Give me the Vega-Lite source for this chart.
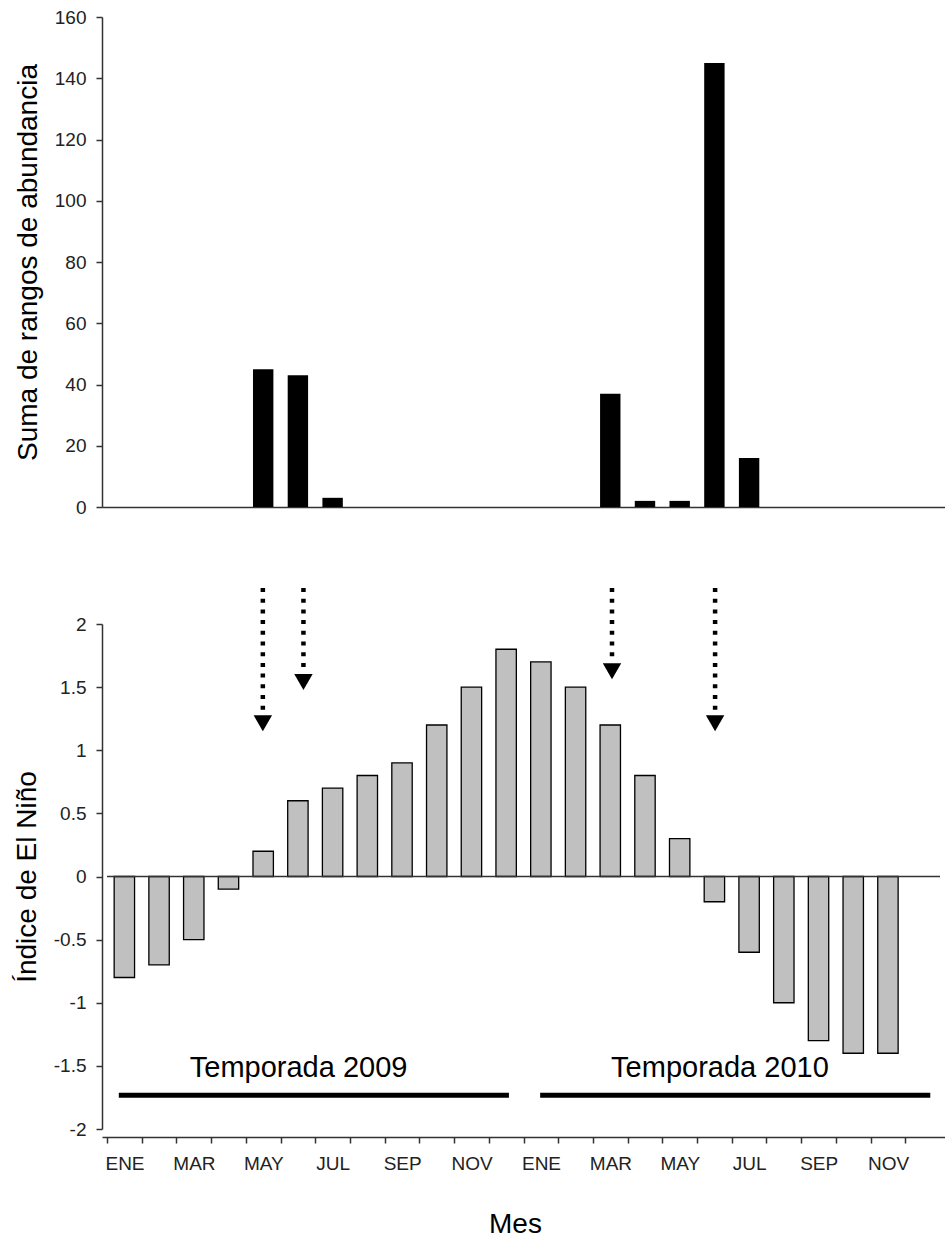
{
  "$schema": "https://vega.github.io/schema/vega-lite/v6.json",
  "padding": {"left": 13, "top": 8, "right": 0, "bottom": 0},
  "config": {
    "view": {"stroke": null},
    "font": "Liberation Sans",
    "axis": {
      "domainColor": "#333333", "tickColor": "#333333", "labelColor": "#222222", "titleColor": "#000000",
      "labelFont": "Liberation Sans", "titleFont": "Liberation Sans",
      "labelFontSize": 19, "titleFontSize": 28, "titleFontWeight": "normal",
      "grid": false, "tickSize": 6, "domainWidth": 1.5, "tickWidth": 1.5,
      "labelFlush": false, "labelOverlap": false, "labelBound": false
    }
  },
  "datasets": {
    "abund": [
      {"mes": "ENE-2009", "orden": 1, "valor": 0}, {"mes": "FEB-2009", "orden": 2, "valor": 0}, {"mes": "MAR-2009", "orden": 3, "valor": 0},
      {"mes": "ABR-2009", "orden": 4, "valor": 0}, {"mes": "MAY-2009", "orden": 5, "valor": 45}, {"mes": "JUN-2009", "orden": 6, "valor": 43},
      {"mes": "JUL-2009", "orden": 7, "valor": 3}, {"mes": "AGO-2009", "orden": 8, "valor": 0}, {"mes": "SEP-2009", "orden": 9, "valor": 0},
      {"mes": "OCT-2009", "orden": 10, "valor": 0}, {"mes": "NOV-2009", "orden": 11, "valor": 0}, {"mes": "DIC-2009", "orden": 12, "valor": 0},
      {"mes": "ENE-2010", "orden": 13, "valor": 0}, {"mes": "FEB-2010", "orden": 14, "valor": 0}, {"mes": "MAR-2010", "orden": 15, "valor": 37},
      {"mes": "ABR-2010", "orden": 16, "valor": 2}, {"mes": "MAY-2010", "orden": 17, "valor": 2}, {"mes": "JUN-2010", "orden": 18, "valor": 145},
      {"mes": "JUL-2010", "orden": 19, "valor": 16}, {"mes": "AGO-2010", "orden": 20, "valor": 0}, {"mes": "SEP-2010", "orden": 21, "valor": 0},
      {"mes": "OCT-2010", "orden": 22, "valor": 0}, {"mes": "NOV-2010", "orden": 23, "valor": 0}, {"mes": "DIC-2010", "orden": 24, "valor": 0}
    ],
    "nino": [
      {"mes": "ENE-2009", "orden": 1, "valor": -0.8}, {"mes": "FEB-2009", "orden": 2, "valor": -0.7}, {"mes": "MAR-2009", "orden": 3, "valor": -0.5},
      {"mes": "ABR-2009", "orden": 4, "valor": -0.1}, {"mes": "MAY-2009", "orden": 5, "valor": 0.2}, {"mes": "JUN-2009", "orden": 6, "valor": 0.6},
      {"mes": "JUL-2009", "orden": 7, "valor": 0.7}, {"mes": "AGO-2009", "orden": 8, "valor": 0.8}, {"mes": "SEP-2009", "orden": 9, "valor": 0.9},
      {"mes": "OCT-2009", "orden": 10, "valor": 1.2}, {"mes": "NOV-2009", "orden": 11, "valor": 1.5}, {"mes": "DIC-2009", "orden": 12, "valor": 1.8},
      {"mes": "ENE-2010", "orden": 13, "valor": 1.7}, {"mes": "FEB-2010", "orden": 14, "valor": 1.5}, {"mes": "MAR-2010", "orden": 15, "valor": 1.2},
      {"mes": "ABR-2010", "orden": 16, "valor": 0.8}, {"mes": "MAY-2010", "orden": 17, "valor": 0.3}, {"mes": "JUN-2010", "orden": 18, "valor": -0.2},
      {"mes": "JUL-2010", "orden": 19, "valor": -0.6}, {"mes": "AGO-2010", "orden": 20, "valor": -1.0}, {"mes": "SEP-2010", "orden": 21, "valor": -1.3},
      {"mes": "OCT-2010", "orden": 22, "valor": -1.4}, {"mes": "NOV-2010", "orden": 23, "valor": -1.4}
    ],
    "cero": [
      {"desde": 0.5, "hasta": 24.5, "nivel": 0}
    ],
    "flechas": [
      {"mes": "MAY-2009", "pos": 4.99, "inicio": 2.285, "fin": 1.302, "punta": 1.213},
      {"mes": "JUN-2009", "pos": 6.16, "inicio": 2.285, "fin": 1.647, "punta": 1.541},
      {"mes": "MAR-2010", "pos": 15.05, "inicio": 2.285, "fin": 1.736, "punta": 1.625},
      {"mes": "JUN-2010", "pos": 18.02, "inicio": 2.285, "fin": 1.302, "punta": 1.213}
    ],
    "temporadas": [
      {"etiqueta": "Temporada 2009", "inicio": 0.84, "fin": 12.08, "centro": 6.02, "nivel": -1.733, "texto": -1.59},
      {"etiqueta": "Temporada 2010", "inicio": 12.98, "fin": 24.22, "centro": 18.16, "nivel": -1.733, "texto": -1.59}
    ]
  },
  "spacing": 68,
  "vconcat": [
    {
      "width": 843,
      "height": 490,
      "data": {"name": "abund"},
      "mark": {"type": "bar", "color": "#000000", "width": 20.4},
      "encoding": {
        "x": {
          "field": "orden", "type": "quantitative",
          "scale": {"domain": [0.5, 24.5], "nice": false, "zero": false},
          "axis": {"title": null, "labels": false, "ticks": false}
        },
        "y": {
          "field": "valor", "type": "quantitative",
          "scale": {"domain": [0, 160]},
          "axis": {"title": "Suma de rangos de abundancia", "values": [0, 20, 40, 60, 80, 100, 120, 140, 160], "labelPadding": 10, "titlePadding": 12}
        }
      }
    },
    {
      "width": 843,
      "height": 505,
      "layer": [
        {
          "data": {"name": "nino"},
          "mark": {"type": "bar", "fill": "#C0C0C0", "stroke": "#000000", "strokeWidth": 1.3, "width": 20.4},
          "encoding": {
            "x": {
              "field": "orden", "type": "quantitative", "title": "Mes",
              "scale": {"domain": [0.5, 24.5], "nice": false, "zero": false},
              "axis": {
                "values": [0.5, 1.5, 2.5, 3.5, 4.5, 5.5, 6.5, 7.5, 8.5, 9.5, 10.5, 11.5, 12.5, 13.5, 14.5, 15.5, 16.5, 17.5, 18.5, 19.5, 20.5, 21.5, 22.5, 23.5],
                "tickCount": 40,
                "labelExpr": "['ENE','','MAR','','MAY','','JUL','','SEP','','NOV',''][round(datum.value - 0.5) % 12]",
                "labelOffset": 17.5, "labelAngle": 0,
                "offset": 8, "labelPadding": 11, "titlePadding": 37, "titleX": 413
              }
            },
            "y": {
              "field": "valor", "type": "quantitative", "title": "Índice de El Niño",
              "scale": {"domain": [-2, 2]},
              "axis": {"values": [-2, -1.5, -1, -0.5, 0, 0.5, 1, 1.5, 2], "labelExpr": "toString(datum.value)", "labelPadding": 10, "titlePadding": 12}
            }
          }
        },
        {
          "data": {"name": "cero"},
          "mark": {"type": "rule", "color": "#333333", "strokeWidth": 1.5},
          "encoding": {
            "x": {"field": "desde", "type": "quantitative", "title": "Mes", "scale": {"domain": [0.5, 24.5], "nice": false, "zero": false}},
            "x2": {"field": "hasta"},
            "y": {"field": "nivel", "type": "quantitative", "title": "Índice de El Niño", "scale": {"domain": [-2, 2]}}
          }
        },
        {
          "data": {"name": "temporadas"},
          "mark": {"type": "rule", "color": "#000000", "strokeWidth": 5},
          "encoding": {
            "x": {"field": "inicio", "type": "quantitative", "title": "Mes", "scale": {"domain": [0.5, 24.5], "nice": false, "zero": false}},
            "x2": {"field": "fin"},
            "y": {"field": "nivel", "type": "quantitative", "title": "Índice de El Niño", "scale": {"domain": [-2, 2]}}
          }
        },
        {
          "data": {"name": "temporadas"},
          "mark": {"type": "text", "fontSize": 29, "font": "Liberation Sans", "baseline": "alphabetic", "align": "center", "color": "#000000"},
          "encoding": {
            "x": {"field": "centro", "type": "quantitative", "title": "Mes", "scale": {"domain": [0.5, 24.5], "nice": false, "zero": false}},
            "y": {"field": "texto", "type": "quantitative", "title": "Índice de El Niño", "scale": {"domain": [-2, 2]}},
            "text": {"field": "etiqueta"}
          }
        },
        {
          "data": {"name": "flechas"},
          "mark": {"type": "rule", "color": "#000000", "strokeWidth": 4.5, "strokeDash": [4, 6.7]},
          "encoding": {
            "x": {"field": "pos", "type": "quantitative", "title": "Mes", "scale": {"domain": [0.5, 24.5], "nice": false, "zero": false}},
            "y": {"field": "inicio", "type": "quantitative", "title": "Índice de El Niño", "scale": {"domain": [-2, 2]}},
            "y2": {"field": "fin"}
          }
        },
        {
          "data": {"name": "flechas"},
          "mark": {"type": "point", "shape": "triangle-down", "filled": true, "color": "#000000", "opacity": 1, "size": 340},
          "encoding": {
            "x": {"field": "pos", "type": "quantitative", "title": "Mes", "scale": {"domain": [0.5, 24.5], "nice": false, "zero": false}},
            "y": {"field": "punta", "type": "quantitative", "title": "Índice de El Niño", "scale": {"domain": [-2, 2]}}
          }
        }
      ]
    }
  ]
}
